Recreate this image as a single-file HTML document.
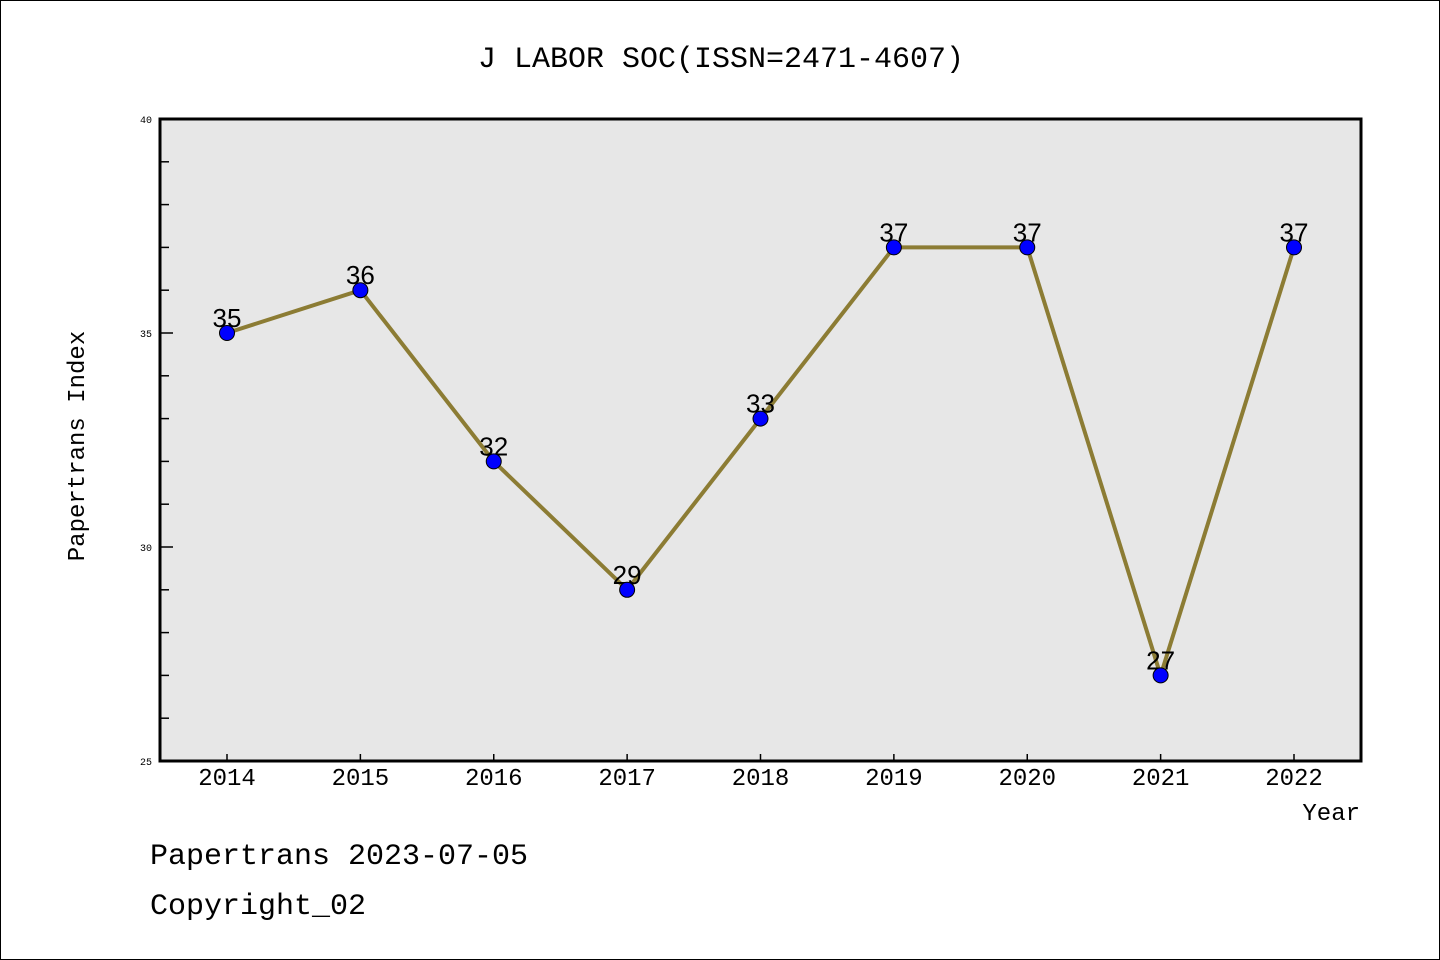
<!DOCTYPE html>
<html><head><meta charset="utf-8"><style>
body{margin:0;background:#fff;}
svg{display:block;}
text{font-family:"Liberation Mono","Noto Sans CJK SC",monospace;fill:#000;}
</style></head><body>
<svg width="1440" height="960">
<rect x="0.5" y="0.5" width="1439" height="959" fill="#fff" stroke="#000"/>
<text x="721" y="67" font-size="30" text-anchor="middle">J LABOR SOC(ISSN=2471-4607)</text>
<rect x="160" y="119" width="1201" height="642" fill="#e7e7e7" stroke="#000" stroke-width="3"/>
<g id="yaxis"></g><g id="xaxis"></g><g id="series"></g>
<text transform="translate(84,446) rotate(-90)" font-size="24" text-anchor="middle">Papertrans Index</text>
<text x="1360" y="820" font-size="24" text-anchor="end">Year</text>
<text x="150" y="864" font-size="30">Papertrans 2023-07-05</text>
<text x="150" y="914" font-size="30">Copyright_02</text>
</svg>
<script>
const years=["2014","2015","2016","2017","2018","2019","2020","2021","2022"];
const values=[35,36,32,29,33,37,37,27,37];
const yTicks=[25,30,35,40];
const NS="http://www.w3.org/2000/svg";
function X(i){return 227+i*(1294-227)/(years.length-1);}
function Y(v){return 761-(v-25)*(642/15);}
function mk(t,a,p){const e=document.createElementNS(NS,t);for(const k in a)e.setAttribute(k,a[k]);p.appendChild(e);return e;}
const ya=document.getElementById('yaxis'),xa=document.getElementById('xaxis'),se=document.getElementById('series');
for(let v=25;v<=40;v++){
 const major=yTicks.includes(v);
 const l=mk('line',{x1:160,x2:major?173:169,y1:Y(v),y2:Y(v),stroke:'#000','stroke-width':1.5},ya);
 
 
}
yTicks.forEach(v=>{
 const t=mk('text',{x:152,y:Y(v)+4,'font-size':10,'text-anchor':'end'},ya);t.textContent=v;
 
 
});
years.forEach((y,i)=>{
 const l=mk('line',{x1:X(i),x2:X(i),y1:761,y2:754,stroke:'#000','stroke-width':1.5},xa);
 
 
 const t=mk('text',{x:X(i),y:785,'font-size':24,'text-anchor':'middle'},xa);t.textContent=y;
 
 
});
const pl=mk('polyline',{points:values.map((v,i)=>X(i)+','+Y(v)).join(' '),fill:'none',stroke:'#8c7c34','stroke-width':4},se);


values.forEach((v,i)=>{
 const t=mk('text',{x:X(i),y:Y(v)-6,'font-size':26,'text-anchor':'middle',style:'font-family:"Liberation Sans",sans-serif'},se);t.textContent=v;
 
 
 const c=mk('circle',{cx:X(i),cy:Y(v),r:7.5,fill:'#0000ff',stroke:'#000','stroke-width':1},se);
 
 
});
</script>
</body></html>
